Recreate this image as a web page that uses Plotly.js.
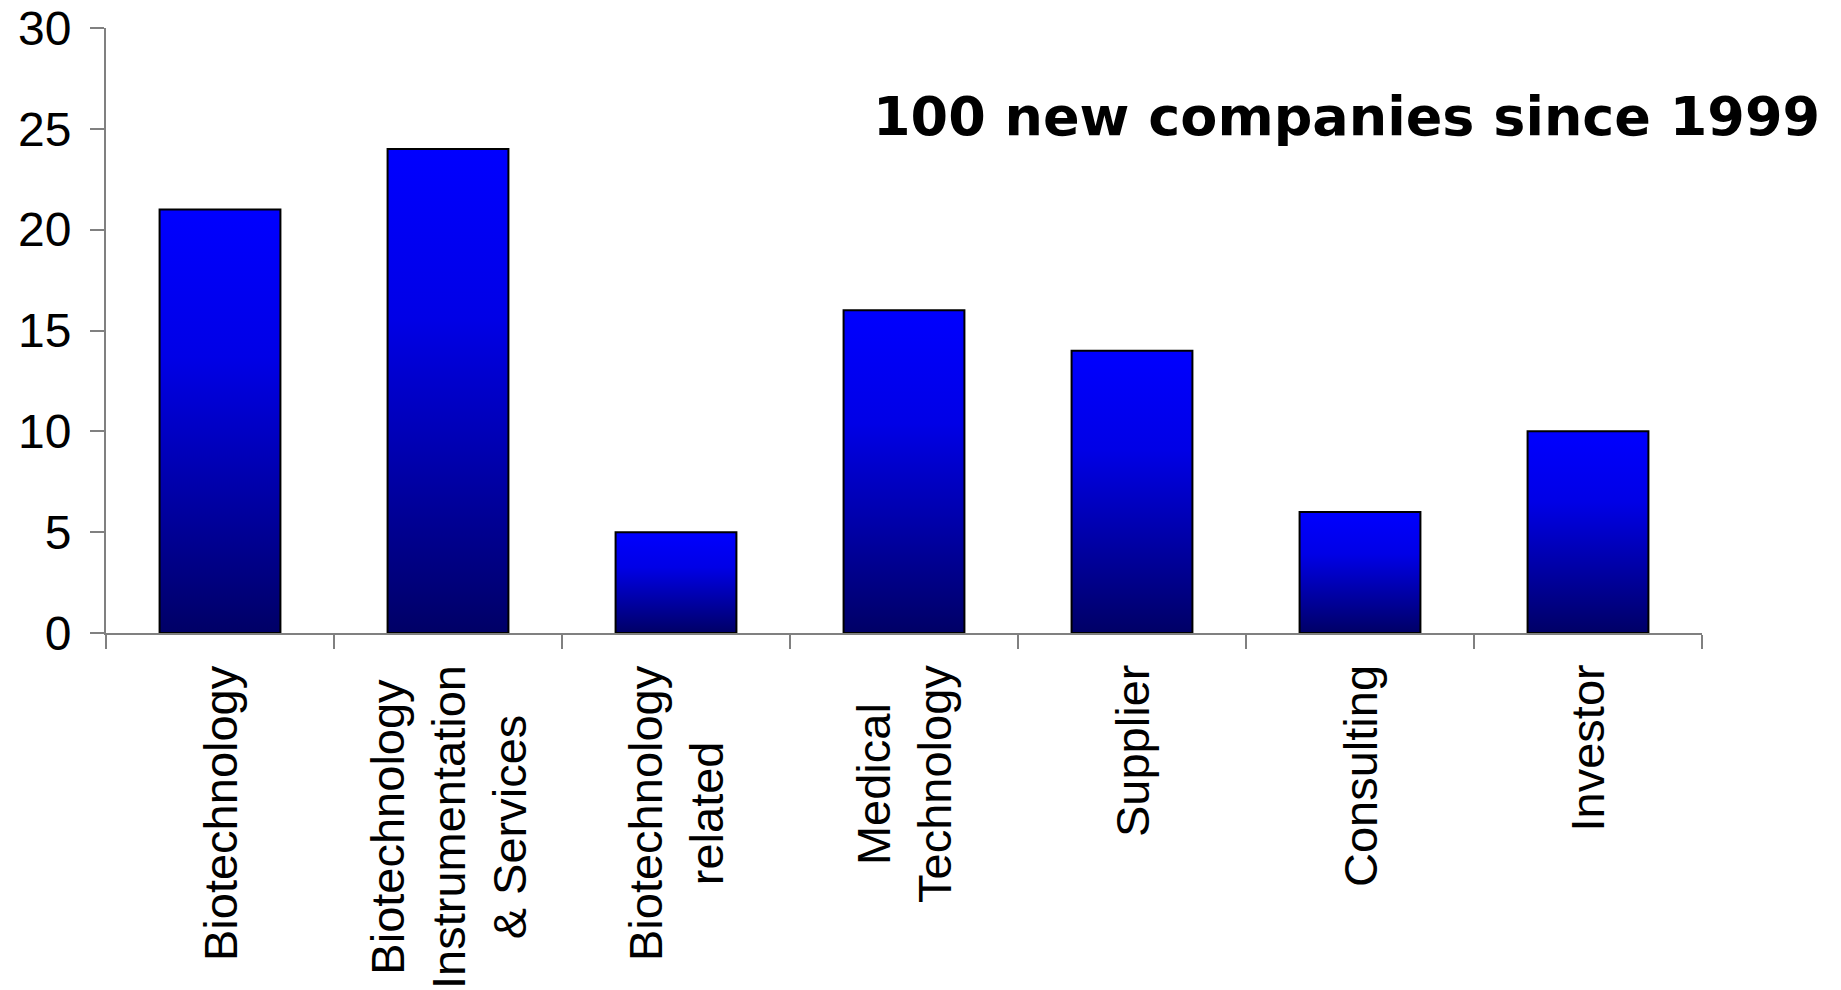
<!DOCTYPE html>
<html>
<head>
<meta charset="utf-8">
<script src="https://cdn.plot.ly/plotly-3.0.1.min.js"></script>
<style>
  html, body { margin: 0; padding: 0; background: #ffffff; }
  #chart { width: 1841px; height: 990px; }
</style>
</head>
<body>
<div id="chart"></div>
<script>
// ---- data ----
var categories = ["Biotechnology", "Biotechnology Instrumentation & Services", "Biotechnology related",
                  "Medical Technology", "Supplier", "Consulting", "Investor"];
var categoryLabels = ["Biotechnology", "Biotechnology<br>Instrumentation<br>& Services", "Biotechnology<br>related",
                      "Medical<br>Technology", "Supplier", "Consulting", "Investor"];
var companies = [21, 24, 5, 16, 14, 6, 10];
var yTickValues = [0, 5, 10, 15, 20, 25, 30];
var titleText = "100 new companies since 1999";

var labelFont = "Arial, 'Liberation Sans', sans-serif";

var trace = {
  type: "bar",
  x: categories,
  y: companies,
  marker: { color: "#0000ff", line: { color: "#000000", width: 2 } },
  hoverinfo: "x+y"
};

var annotations = categoryLabels.map(function (lab, i) {
  return {
    xref: "x", yref: "paper",
    x: categories[i], y: -0.0496,
    xanchor: "center", yanchor: "top",
    text: lab, showarrow: false, textangle: -90, align: "center",
    font: { family: labelFont, size: 47, color: "#000000" }
  };
});
annotations.push({
  xref: "paper", yref: "paper",
  x: 1.0752, y: 0.8545, xanchor: "right", yanchor: "middle",
  text: titleText, showarrow: false,
  font: { family: "'DejaVu Sans', Verdana, sans-serif", size: 54, weight: "bold", color: "#000000" }
});

var layout = {
  width: 1841, height: 990,
  margin: { l: 106, r: 139, t: 28, b: 357, pad: 0 },
  paper_bgcolor: "#ffffff", plot_bgcolor: "#ffffff",
  showlegend: false,
  bargap: 0.47,
  xaxis: {
    type: "category", range: [-0.5, 6.5],
    showline: true, linecolor: "#808080", linewidth: 2,
    ticks: "outside", tickson: "boundaries", ticklen: 14, tickcolor: "#808080", tickwidth: 2,
    showticklabels: false, showgrid: false, zeroline: false, fixedrange: true
  },
  yaxis: {
    range: [0, 30], tickvals: yTickValues,
    showline: true, linecolor: "#808080", linewidth: 2,
    ticks: "outside", ticklen: 14, tickcolor: "#808080", tickwidth: 2,
    ticklabelstandoff: 9,
    tickfont: { family: labelFont, size: 48, color: "#000000" },
    showgrid: false, zeroline: false, fixedrange: true
  },
  annotations: annotations
};

Plotly.newPlot("chart", [trace], layout, { displayModeBar: false, staticPlot: true }).then(function (gd) {
  var svgNS = "http://www.w3.org/2000/svg";
  var svg = gd.querySelector(".main-svg");
  var defs = svg.querySelector("defs");
  if (!defs) {
    defs = document.createElementNS(svgNS, "defs");
    svg.insertBefore(defs, svg.firstChild);
  }
  var grad = document.createElementNS(svgNS, "linearGradient");
  grad.setAttribute("id", "barGrad");
  grad.setAttribute("x1", "0"); grad.setAttribute("y1", "0");
  grad.setAttribute("x2", "0"); grad.setAttribute("y2", "1");
  [["0%", "#0000ff"], ["35%", "#0000e6"], ["100%", "#000066"]].forEach(function (s) {
    var st = document.createElementNS(svgNS, "stop");
    st.setAttribute("offset", s[0]);
    st.setAttribute("stop-color", s[1]);
    grad.appendChild(st);
  });
  defs.appendChild(grad);
  gd.querySelectorAll(".bars .point path").forEach(function (p) {
    p.style.fill = "url(#barGrad)";
  });
});
</script>
</body>
</html>
